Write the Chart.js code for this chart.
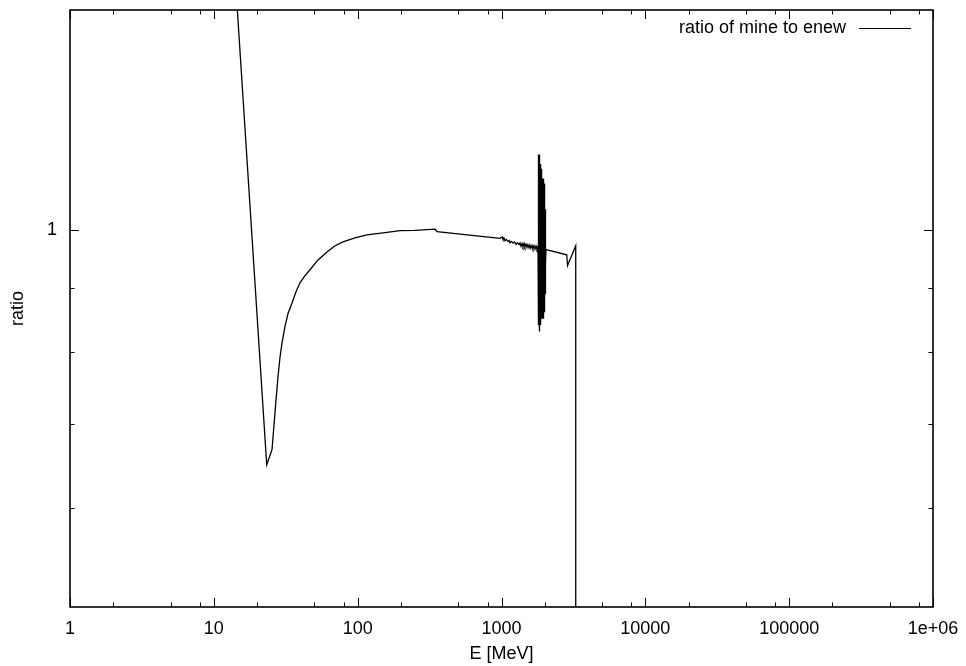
<!DOCTYPE html>
<html><head><meta charset="utf-8">
<script src="https://cdn.jsdelivr.net/npm/chart.js@4.4.1/dist/chart.umd.min.js"></script>
<style>html,body{margin:0;padding:0;background:#fff;}#wrap{width:966px;height:666px;}</style>
</head><body><div id="wrap"><canvas id="c" width="966" height="666"></canvas></div>
<script>
const seriesLabel = 'ratio of mine to enew';
const energyMeV = [
  10, 23.32, 25.38, 26.2, 27.06, 27.94, 28.85, 29.79, 31.24, 32.79, 34.96, 37.26, 39.72,
  43.05, 46.63, 53.0, 61.2, 69.6, 79.1, 95.8, 116.1, 150, 197, 250, 345, 356,
  976, 1010, 1024, 1040, 1058, 1080, 1110, 1130, 1146, 1170, 1202, 1230, 1261, 1290, 1324, 1345,
  1367, 1390, 1410, 1434, 1455, 1480, 1504, 1525, 1553, 1575, 1600, 1630, 1655, 1683, 1710, 1738, 1765, 1794,
  1796, 1800, 1804, 1808, 1812, 1816, 1820, 1824, 1828, 1832, 1836, 1840, 1845, 1850, 1855, 1860, 1865,
  1870, 1875, 1880, 1885, 1890, 1895, 1900, 1905, 1910, 1915, 1920, 1925, 1930, 1935, 1940, 1945, 1950,
  1955, 1960, 1965, 1970, 1975, 1980, 1985, 1990, 1995, 2000, 2005, 2010, 2015, 2020, 2025, 2030, 2040,
  2841, 2877, 3281, 3282
];
const ratioValues = [
  2.93, 0.6496, 0.668, 0.699, 0.732, 0.764, 0.792, 0.813, 0.838, 0.858, 0.875, 0.893, 0.908,
  0.920, 0.930, 0.947, 0.961, 0.972, 0.979, 0.9863, 0.9918, 0.9954, 0.9995, 1.000, 1.0022, 0.9978,
  0.9854, 0.9880, 0.9840, 0.9860, 0.9809, 0.9835, 0.9800, 0.9815, 0.9775, 0.9800, 0.9770, 0.9790, 0.9745, 0.9775, 0.9740, 0.9770,
  0.9710, 0.9760, 0.9705, 0.9760, 0.9700, 0.9745, 0.9690, 0.9740, 0.9685, 0.9735, 0.9675, 0.9725, 0.9670, 0.9720, 0.9660, 0.9715, 0.9655, 0.9700,
  1.08, 0.90, 1.13, 0.86, 1.15, 0.84, 1.14, 0.85, 1.15, 0.83, 1.13, 0.86, 1.14, 0.83, 1.12, 0.85, 1.13,
  0.84, 1.11, 0.86, 1.12, 0.85, 1.10, 0.86, 1.11, 0.85, 1.09, 0.86, 1.10, 0.85, 1.10, 0.86, 1.09, 0.85,
  1.10, 0.86, 1.08, 0.85, 1.09, 0.87, 1.07, 0.86, 1.08, 0.88, 1.05, 0.89, 1.04, 0.91, 1.00, 0.94, 0.965,
  0.956, 0.937, 0.9719, 0.001
];
const xTickValues = [1, 10, 100, 1000, 10000, 100000, 1000000];
const xTickLabels = ['1', '10', '100', '1000', '10000', '100000', '1e+06'];
const xMinorFactors = [2, 5, 8];
const yTickValues = [1];
const yTickLabels = ['1'];
const yMinorValues = [0.6, 0.7, 0.8, 0.9];
const xTitle = 'E [MeV]';
const yTitle = 'ratio';

const FONT = '"Liberation Sans", Arial, sans-serif';
const FSIZE = 18;

const framePlugin = {
  id: 'frameTicks',
  afterDraw(chart) {
    const {ctx, chartArea: {left, right, top, bottom}, scales: {x, y}} = chart;
    ctx.save();
    ctx.strokeStyle = '#000';
    ctx.lineWidth = 1;
    const MAJ = 9, MIN = 4.5;
    ctx.beginPath();
    xTickValues.forEach((v, i) => {
      const px = Math.round(x.getPixelForValue(v)) + 0.5;
      ctx.moveTo(px, bottom); ctx.lineTo(px, bottom - MAJ);
      ctx.moveTo(px, top); ctx.lineTo(px, top + MAJ);
      if (i < xTickValues.length - 1) {
        xMinorFactors.forEach(f => {
          const pm = Math.round(x.getPixelForValue(v * f)) + 0.5;
          ctx.moveTo(pm, bottom); ctx.lineTo(pm, bottom - MIN);
          ctx.moveTo(pm, top); ctx.lineTo(pm, top + MIN);
        });
      }
    });
    yTickValues.forEach(v => {
      const py = Math.round(y.getPixelForValue(v)) + 0.5;
      ctx.moveTo(left, py); ctx.lineTo(left + MAJ, py);
      ctx.moveTo(right, py); ctx.lineTo(right - MAJ, py);
    });
    yMinorValues.forEach(v => {
      const py = Math.round(y.getPixelForValue(v)) + 0.5;
      ctx.moveTo(left, py); ctx.lineTo(left + MIN, py);
      ctx.moveTo(right, py); ctx.lineTo(right - MIN, py);
    });
    ctx.stroke();
    ctx.lineWidth = 1.6;
    ctx.strokeRect(left, top, right - left, bottom - top);
    // legend
    const ds = chart.data.datasets[0];
    ctx.font = FSIZE + 'px ' + FONT;
    ctx.fillStyle = '#000';
    ctx.textAlign = 'right';
    ctx.textBaseline = 'middle';
    ctx.fillText(ds.label, right - 87, top + 18);
    ctx.strokeStyle = ds.borderColor;
    ctx.lineWidth = 1;
    ctx.beginPath();
    ctx.moveTo(right - 74, top + 18.5);
    ctx.lineTo(right - 22, top + 18.5);
    ctx.stroke();
    ctx.restore();
  }
};

new Chart(document.getElementById('c'), {
  type: 'line',
  data: {
    datasets: [{
      label: seriesLabel,
      data: energyMeV.map((e, i) => ({x: e, y: ratioValues[i]})),
      borderColor: '#000',
      borderWidth: 1.3,
      pointRadius: 0,
      fill: false,
      tension: 0
    }]
  },
  options: {
    responsive: false,
    animation: false,
    devicePixelRatio: 1,
    layout: {padding: {top: 10, right: 33, left: 0, bottom: 0}},
    plugins: {legend: {display: false}, tooltip: {enabled: false}},
    scales: {
      x: {
        type: 'logarithmic', position: 'bottom', min: 1, max: 1000000,
        afterBuildTicks: s => { s.ticks = xTickValues.map(v => ({value: v})); },
        afterFit: s => { s.height = 59; s.paddingLeft = 0; s.paddingRight = 0; },
        ticks: {
          autoSkip: false, maxRotation: 0, minRotation: 0, padding: 11, color: '#000',
          font: {family: FONT, size: FSIZE},
          callback: v => xTickLabels[xTickValues.indexOf(v)]
        },
        grid: {display: false, drawTicks: false},
        border: {display: false},
        title: {display: true, text: xTitle, color: '#000', font: {family: FONT, size: FSIZE}, padding: {top: 0, bottom: 1}}
      },
      y: {
        type: 'logarithmic', position: 'left', min: 0.5, max: 1.5,
        afterBuildTicks: s => { s.ticks = yTickValues.map(v => ({value: v})); },
        afterFit: s => { s.width = 70; s.paddingTop = 0; s.paddingBottom = 0; },
        ticks: {
          autoSkip: false, padding: 13, color: '#000',
          font: {family: FONT, size: FSIZE},
          callback: v => yTickLabels[yTickValues.indexOf(v)]
        },
        grid: {display: false, drawTicks: false},
        border: {display: false},
        title: {display: true, text: yTitle, color: '#000', font: {family: FONT, size: FSIZE}, padding: {top: 7, bottom: 0}}
      }
    }
  },
  plugins: [framePlugin]
});
</script></body></html>
